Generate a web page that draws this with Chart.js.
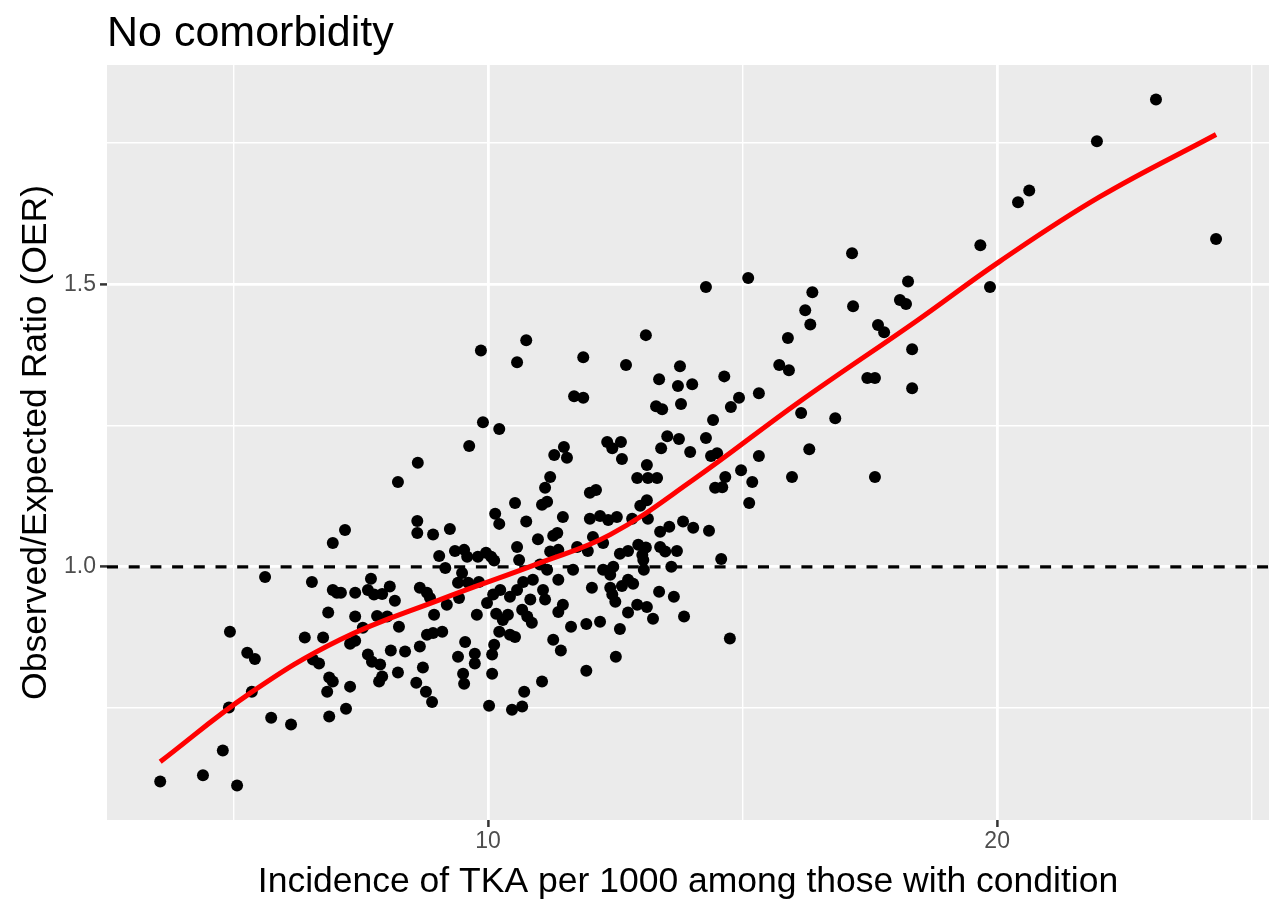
<!DOCTYPE html>
<html>
<head>
<meta charset="utf-8">
<script src="https://cdn.jsdelivr.net/npm/chart.js@4.4.0/dist/chart.umd.min.js"></script>
<style>
  html, body { margin: 0; padding: 0; background: #ffffff; }
  #wrap { width: 1269px; height: 901px; }
</style>
</head>
<body>
<div id="wrap"><canvas id="myChart" width="1269" height="901"></canvas></div>
<script>
'use strict';

// data
let incidence = [
  23.12, 21.96, 20.63, 20.41, 24.30, 19.67, 19.86, 17.15, 17.17, 18.25, 18.09, 18.21, 18.33, 18.33, 17.66, 17.78,
  17.45, 17.60, 17.60, 16.82, 16.37, 16.23, 16.33, 15.89, 15.72, 15.91, 16.15, 16.31, 15.97, 15.11, 14.28, 14.93,
  15.32, 15.32, 14.97, 15.19, 15.13, 13.10, 11.87, 12.71, 13.77, 14.64, 13.36, 13.73, 14.01, 11.69, 11.87, 13.30,
  13.42, 13.79, 14.77, 14.42, 13.52, 13.75, 14.28, 12.34, 12.61, 12.44, 11.49, 11.30, 11.55, 13.40, 13.97, 12.63,
  14.38, 14.50, 13.12, 11.22, 12.93, 13.14, 13.32, 14.66, 9.86, 10.75, 10.57, 9.90, 10.22, 9.63, 8.62, 8.23,
  7.19, 8.61, 8.61, 8.92, 9.25, 9.04, 9.35, 9.53, 9.59, 9.80, 9.96, 10.06, 10.12, 9.16, 10.53, 10.14,
  10.22, 10.75, 10.98, 10.57, 10.61, 9.49, 9.41, 9.82, 9.61, 7.11, 7.39, 7.70, 7.64, 7.76, 7.92, 8.07,
  8.17, 8.66, 8.80, 8.86, 9.19, 9.43, 9.98, 10.10, 10.24, 10.43, 10.57, 10.69, 10.83, 10.88, 7.39, 7.82,
  8.02, 8.25, 8.94, 9.78, 10.16, 10.29, 10.39, 10.67, 10.77, 10.86, 7.54, 8.80, 8.92, 9.10, 10.22, 10.43,
  10.53, 9.55, 11.12, 11.16, 11.06, 12.00, 12.12, 14.46, 14.60, 12.99, 13.12, 11.47, 12.00, 12.20, 12.36, 12.53,
  12.83, 13.14, 11.36, 11.28, 12.06, 12.26, 13.38, 13.56, 13.83, 14.03, 14.34, 11.75, 11.96, 11.22, 11.38, 12.59,
  12.75, 12.95, 13.10, 13.03, 13.05, 13.38, 13.48, 13.71, 14.58, 11.02, 11.16, 11.67, 12.26, 12.40, 12.46, 13.06,
  13.60, 11.38, 12.04, 12.40, 12.63, 12.75, 12.85, 11.08, 12.44, 12.50, 13.36, 13.65, 11.12, 11.47, 11.38, 12.93,
  13.12, 12.75, 13.24, 13.85, 12.20, 11.93, 11.63, 12.59, 11.28, 14.75, 6.95, 5.62, 6.54, 6.95, 7.03, 6.86,
  4.93, 6.40, 6.76, 5.27, 5.42, 6.56, 6.68, 6.88, 6.95, 6.84, 5.36, 4.91, 5.74, 6.13, 6.88, 4.79,
  4.40, 3.56, 5.07, 7.29, 7.39, 7.64, 7.72, 7.88, 8.09, 8.37, 8.66, 7.92, 7.86, 8.23, 8.72, 7.29,
  8.59, 8.78, 8.90, 7.21, 9.41, 9.74, 9.74, 9.51, 9.53, 10.12, 10.08, 10.08, 10.71, 10.67, 10.47, 10.02,
  11.43, 12.51, 11.93, 11.06
];
let oer = [
  1.827, 1.753, 1.666, 1.645, 1.580, 1.569, 1.495, 1.555, 1.461, 1.505, 1.472, 1.465, 1.385, 1.316, 1.428, 1.415,
  1.334, 1.334, 1.159, 1.263, 1.486, 1.454, 1.429, 1.405, 1.357, 1.348, 1.272, 1.208, 1.159, 1.511, 1.495, 1.299,
  1.307, 1.196, 1.171, 1.150, 1.113, 1.410, 1.371, 1.357, 1.355, 1.337, 1.332, 1.320, 1.323, 1.302, 1.299, 1.284,
  1.279, 1.288, 1.283, 1.260, 1.231, 1.226, 1.228, 1.221, 1.221, 1.210, 1.212, 1.198, 1.193, 1.210, 1.203, 1.191,
  1.196, 1.201, 1.180, 1.159, 1.157, 1.157, 1.157, 1.159, 1.383, 1.401, 1.362, 1.256, 1.244, 1.214, 1.184, 1.150,
  1.065, 1.081, 1.060, 1.057, 1.067, 1.019, 1.028, 1.030, 1.018, 1.018, 1.025, 1.018, 1.011, 0.998, 1.113, 1.094,
  1.076, 1.080, 1.049, 1.035, 1.012, 0.989, 0.972, 0.973, 0.972, 0.954, 0.954, 0.979, 0.959, 0.951, 0.952, 0.965,
  0.940, 0.963, 0.954, 0.945, 0.933, 0.945, 0.936, 0.951, 0.959, 0.947, 0.959, 0.973, 0.942, 0.977, 0.912, 0.913,
  0.912, 0.894, 0.915, 0.915, 0.917, 0.906, 0.915, 0.924, 0.912, 0.901, 0.892, 0.880, 0.883, 0.885, 0.885, 0.880,
  0.876, 0.867, 1.140, 1.115, 1.110, 1.131, 1.136, 1.140, 1.141, 1.108, 1.118, 1.088, 1.085, 1.090, 1.083, 1.088,
  1.085, 1.085, 1.060, 1.055, 1.053, 1.042, 1.062, 1.071, 1.080, 1.069, 1.064, 1.035, 1.028, 1.027, 1.030, 1.023,
  1.028, 1.039, 1.034, 1.021, 1.012, 1.035, 1.027, 1.028, 1.014, 1.004, 0.995, 0.995, 0.995, 0.986, 1.000, 0.995,
  1.000, 0.977, 0.963, 0.963, 0.966, 0.977, 0.970, 0.959, 0.951, 0.938, 0.956, 0.947, 0.942, 0.933, 0.920, 0.933,
  0.929, 0.919, 0.908, 0.912, 0.903, 0.899, 0.894, 0.890, 0.871, 0.873, 1.042, 0.982, 0.973, 0.959, 0.954, 0.919,
  0.885, 0.875, 0.875, 0.848, 0.837, 0.836, 0.829, 0.804, 0.797, 0.779, 0.779, 0.751, 0.733, 0.721, 0.735, 0.675,
  0.631, 0.620, 0.613, 0.864, 0.869, 0.845, 0.832, 0.827, 0.852, 0.850, 0.859, 0.806, 0.797, 0.813, 0.822, 0.788,
  0.795, 0.779, 0.761, 0.749, 0.841, 0.846, 0.829, 0.811, 0.793, 0.862, 0.845, 0.811, 0.779, 0.753, 0.747, 0.754,
  0.852, 0.841, 0.816, 0.797
];

// red smooth curve
let smoothX = [3.56, 5.32, 7.09, 9.06, 11.02, 12.40, 14.03, 16.13, 18.43, 20.06, 22.02, 24.30];
let smoothY = [0.655, 0.776, 0.871, 0.942, 1.007, 1.057, 1.154, 1.293, 1.436, 1.541, 1.655, 1.765];

// reference line and axes
let refLine = 1;
let xLimits = [2.515, 25.34];
let yLimits = [0.552, 1.888];
let xTicks = [5, 10, 15, 20, 25];
let xLabelled = [10, 20];
let yTicks = [0.75, 1.0, 1.25, 1.5, 1.75];
let yLabelled = [1.0, 1.5];

let scatterPoints = [];
for (let i = 0; i < incidence.length; i++) {
  scatterPoints.push({ x: incidence[i], y: oer[i] });
}
let smoothPoints = [];
for (let i = 0; i < smoothX.length; i++) {
  smoothPoints.push({ x: smoothX[i], y: smoothY[i] });
}

function isMajor(list, v) {
  return list.some(m => Math.abs(m - v) < 1e-9);
}

// gray panel behind everything, titles on top
const panelPlugin = {
  id: 'panel',
  beforeDraw(chart) {
    const a = chart.chartArea;
    const c = chart.ctx;
    c.save();
    c.fillStyle = '#EBEBEB';
    c.fillRect(a.left, a.top, a.right - a.left, a.bottom - a.top);
    c.restore();
  },
  afterDraw(chart) {
    const a = chart.chartArea;
    const c = chart.ctx;
    c.save();
    c.fillStyle = '#000000';
    c.textBaseline = 'alphabetic';
    c.font = '43px "Liberation Sans", Arial, sans-serif';
    c.textAlign = 'left';
    c.fillText('No comorbidity', a.left, 46);
    c.font = '35.5px "Liberation Sans", Arial, sans-serif';
    c.textAlign = 'center';
    c.fillText('Incidence of TKA per 1000 among those with condition', (a.left + a.right) / 2, 892);
    c.translate(46, (a.top + a.bottom) / 2);
    c.rotate(-Math.PI / 2);
    c.fillText('Observed/Expected Ratio (OER)', 0, 0);
    c.restore();
  }
};

let ctx = document.getElementById('myChart').getContext('2d');
let myChart = new Chart(ctx, {
  type: 'scatter',
  data: {
    datasets: [{
      label: 'smooth',
      data: smoothPoints,
      showLine: true,
      borderColor: '#FF0000',
      borderWidth: 5,
      pointRadius: 0,
      tension: 0.4,
      fill: false
    }, {
      label: 'reference',
      data: [{ x: xLimits[0], y: refLine }, { x: xLimits[1], y: refLine }],
      showLine: true,
      borderColor: '#000000',
      borderWidth: 3.2,
      borderDash: [11, 10.7],
      pointRadius: 0,
      fill: false
    }, {
      label: 'districts',
      data: scatterPoints,
      backgroundColor: '#000000',
      borderWidth: 0,
      pointRadius: 6,
      pointHoverRadius: 6
    }]
  },
  options: {
    responsive: false,
    animation: false,
    layout: { autoPadding: false, padding: { left: 0, right: 0, top: 65, bottom: 0 } },
    plugins: {
      legend: { display: false },
      tooltip: { enabled: false },
      title: { display: false }
    },
    scales: {
      x: {
        type: 'linear',
        min: xLimits[0],
        max: xLimits[1],
        afterBuildTicks(scale) {
          scale.ticks = xTicks.map(v => ({ value: v }));
        },
        afterFit(scale) {
          scale.height = 81;
        },
        border: { display: false },
        grid: {
          color: '#FFFFFF',
          lineWidth: c => (c.tick && isMajor(xLabelled, c.tick.value) ? 2.8 : 1.4),
          tickColor: c => (c.tick && isMajor(xLabelled, c.tick.value) ? '#333333' : 'rgba(0,0,0,0)'),
          tickWidth: 2.5,
          tickLength: 7,
          drawTicks: true
        },
        ticks: {
          autoSkip: false,
          maxRotation: 0,
          padding: 1,
          color: '#4D4D4D',
          font: { family: '"Liberation Sans", Arial, sans-serif', size: 23 },
          callback: v => (isMajor(xLabelled, v) ? String(v) : '')
        }
      },
      y: {
        type: 'linear',
        min: yLimits[0],
        max: yLimits[1],
        afterBuildTicks(scale) {
          scale.ticks = yTicks.map(v => ({ value: v }));
        },
        afterFit(scale) {
          scale.width = 107;
        },
        border: { display: false },
        grid: {
          color: '#FFFFFF',
          lineWidth: c => (c.tick && isMajor(yLabelled, c.tick.value) ? 2.8 : 1.4),
          tickColor: c => (c.tick && isMajor(yLabelled, c.tick.value) ? '#333333' : 'rgba(0,0,0,0)'),
          tickWidth: 2.5,
          tickLength: 7,
          drawTicks: true
        },
        ticks: {
          autoSkip: false,
          padding: 4,
          color: '#4D4D4D',
          font: { family: '"Liberation Sans", Arial, sans-serif', size: 23 },
          callback: v => (isMajor(yLabelled, v) ? v.toFixed(1) : '')
        }
      }
    }
  },
  plugins: [panelPlugin]
});
</script>
</body>
</html>
